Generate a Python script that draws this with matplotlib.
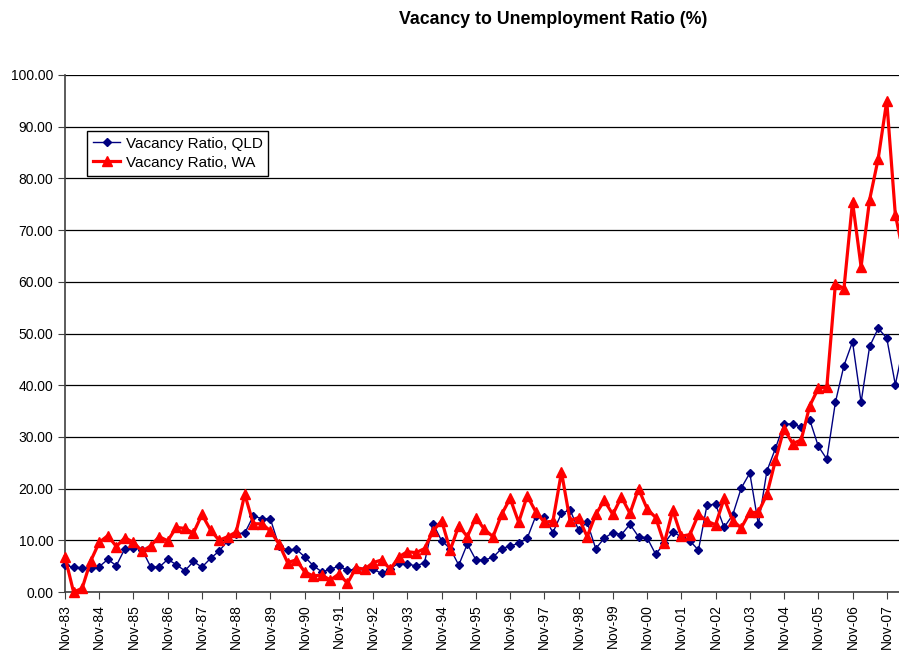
import matplotlib
matplotlib.use("Agg")
import matplotlib.pyplot as plt
import numpy as np

plt.rcParams["font.family"] = ["Liberation Sans", "DejaVu Sans"]

# Quarterly series, Nov-83 onwards
qld_ratio = [
    5.2, 4.8, 4.7, 4.6, 4.9, 6.3, 5.1, 8.4, 8.6, 8.2,
    4.9, 4.8, 6.3, 5.3, 4.1, 5.9, 4.8, 6.5, 7.9, 9.9,
    11.3, 11.4, 14.7, 14.2, 14.1, 8.9, 8.1, 8.3, 6.8, 5.1,
    3.9, 4.4, 5.0, 4.2, 4.4, 4.5, 4.4, 3.6, 4.5, 5.6,
    5.5, 5.0, 5.7, 13.2, 9.9, 8.4, 5.2, 9.3, 6.2, 6.2,
    6.7, 8.4, 8.9, 9.4, 10.4, 14.7, 14.5, 11.5, 15.2, 15.9,
    12.0, 13.5, 8.4, 10.4, 11.5, 11.1, 13.1, 10.7, 10.5, 7.3,
    9.4, 11.6, 10.7, 9.9, 8.1, 16.8, 17.0, 12.5, 14.9, 20.1,
    23.0, 13.1, 23.4, 27.8, 32.5, 32.5, 31.9, 33.3, 28.2, 25.7,
    36.7, 43.8, 48.4, 36.7, 47.5, 51.0, 49.1, 40.1, 48.0,
]
wa_ratio = [
    6.8, 0.0, 0.7, 6.0, 9.6, 10.9, 8.8, 10.5, 9.6, 7.9,
    8.9, 10.7, 9.9, 12.5, 12.3, 11.4, 15.0, 12.0, 10.0, 10.7,
    11.6, 18.9, 13.2, 13.2, 11.8, 9.3, 5.7, 6.2, 3.9, 3.1,
    3.3, 2.3, 3.5, 1.7, 4.7, 4.4, 5.7, 6.2, 4.4, 6.8,
    7.8, 7.6, 8.4, 11.8, 13.8, 8.1, 12.8, 10.7, 14.4, 12.1,
    10.7, 15.0, 18.1, 13.5, 18.6, 15.5, 13.5, 13.7, 23.2, 13.8,
    14.4, 10.7, 15.0, 17.7, 15.0, 18.4, 15.2, 20.0, 16.1, 14.4,
    9.4, 15.8, 10.8, 11.1, 15.0, 13.7, 13.0, 18.1, 13.8, 12.4,
    15.4, 15.4, 18.9, 25.5, 31.6, 28.7, 29.4, 36.0, 39.4, 39.7,
    59.6, 58.7, 75.5, 62.9, 75.9, 83.8, 95.0, 73.0, 65.0,
]
year_labels = ["Nov-%02d" % (y % 100) for y in range(1983, 2008)]

quarters = np.arange(len(qld_ratio))

fig = plt.figure(figsize=(8.99, 6.55), dpi=100)
# plot area runs past the right edge of the picture, as in the original
ax = fig.add_axes([65 / 899, 63 / 655, 856 / 899, 517 / 655])

ax.plot(quarters, qld_ratio, color="#000080", lw=1.0, marker="D", ms=4.5,
        label="Vacancy Ratio, QLD", clip_on=False, zorder=3)
ax.plot(quarters, wa_ratio, color="#ff0000", lw=2.3, marker="^", ms=6.5,
        label="Vacancy Ratio, WA", clip_on=False, zorder=4)

ax.set_xlim(0, 100)
ax.set_ylim(0, 100)
ax.set_yticks(np.arange(0, 101, 10))
ax.set_yticklabels(["%.2f" % v for v in np.arange(0, 101, 10)], fontsize=10)
ax.set_xticks(np.arange(0, len(year_labels) * 4, 4))
ax.set_xticklabels(year_labels, rotation=90, fontsize=10)
ax.tick_params(axis="both", direction="out", length=5, color="#404040")

ax.yaxis.grid(True, color="black", lw=0.9)
ax.set_axisbelow(True)
for side in ("top", "right"):
    ax.spines[side].set_visible(False)
for side in ("left", "bottom"):
    ax.spines[side].set_color("#404040")
    ax.spines[side].set_linewidth(1.2)

leg = ax.legend(loc="upper left", bbox_to_anchor=(87 / 899, 1 - 131 / 655),
                bbox_transform=fig.transFigure, borderaxespad=0, fontsize=11,
                fancybox=False, framealpha=1, edgecolor="black",
                handlelength=1.8, handletextpad=0.35, borderpad=0.38,
                labelspacing=0.32)
leg.get_frame().set_linewidth(1.0)

fig.text(553 / 899, 1 - 20 / 655, "Vacancy to Unemployment Ratio (%)",
         ha="center", va="center", fontsize=12.8, fontweight="bold")

fig.savefig("out.png", dpi=100)
